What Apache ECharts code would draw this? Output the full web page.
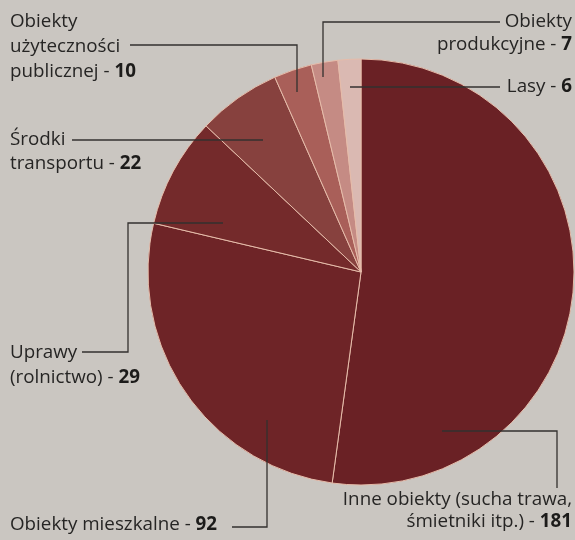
<!DOCTYPE html>
<html>
<head>
<meta charset="utf-8">
<script src="https://cdn.jsdelivr.net/npm/echarts@6/dist/echarts.min.js"></script>
<style>
html,body{margin:0;padding:0;background:#cac6c1;}
#c{width:575px;height:540px;}
</style>
</head>
<body>
<div id="c"></div>
<script>
// Data
var categories = [
  'Inne obiekty (sucha trawa, śmietniki itp.)',
  'Obiekty mieszkalne',
  'Uprawy (rolnictwo)',
  'Środki transportu',
  'Obiekty użyteczności publicznej',
  'Obiekty produkcyjne',
  'Lasy'
];
var values = [181, 92, 29, 22, 10, 7, 6];
// label text lines (last line gets " - value")
var labelLines = [
  ['Inne obiekty (sucha trawa,', 'śmietniki itp.)'],
  ['Obiekty mieszkalne'],
  ['Uprawy', '(rolnictwo)'],
  ['Środki', 'transportu'],
  ['Obiekty', 'użyteczności', 'publicznej'],
  ['Obiekty', 'produkcyjne'],
  ['Lasy']
];
var colors = ['#6a2125', '#6e2427', '#742a2b', '#87413e', '#a95f59', '#c58b84', '#dab9b2'];

// Layout of labels (positions only)
var labelLayouts = [
  {x: 572, y: 489, align: 'right', lh: 22, pts: [[442, 431], [557, 431], [557, 488]]},
  {x: 10, y: 513, align: 'left', lh: 24, pts: [[267, 420], [267, 527], [232, 527]]},
  {x: 10, y: 340, align: 'left', lh: 25, pts: [[223, 223], [128, 223], [128, 352], [82, 352]]},
  {x: 10, y: 128, align: 'left', lh: 24, pts: [[263, 140], [72, 140]]},
  {x: 10, y: 9, align: 'left', lh: 25, pts: [[297, 92], [297, 45], [130, 45]]},
  {x: 572, y: 10, align: 'right', lh: 23, pts: [[323, 77], [323, 22], [500, 22]]},
  {x: 572, y: 75, align: 'right', lh: 23, pts: [[350, 87], [500, 87]]}
];

var FONT = 'Open Sans';
var FS = 18.8;

var pieData = categories.map(function (c, i) {
  return {name: c, value: values[i], itemStyle: {color: colors[i]}};
});

var labelData = categories.map(function (c, i) {
  var lines = labelLines[i];
  var L = labelLayouts[i];
  var txt = lines.slice(0, -1).map(function (s) { return '{n|' + s + '}'; });
  txt.push('{n|' + lines[lines.length - 1] + ' - }{b|' + values[i] + '}');
  return {
    name: c,
    value: values[i],
    label: {
      formatter: txt.join('\n'),
      align: L.align,
      rich: {
        n: {fontFamily: FONT, fontSize: FS, color: '#262524', lineHeight: L.lh},
        b: {fontFamily: FONT, fontSize: FS, fontWeight: 'bold', color: '#1c1b1a', lineHeight: L.lh}
      }
    }
  };
});

var chart = echarts.init(document.getElementById('c'));
chart.setOption({
  backgroundColor: '#cac6c1',
  animation: false,
  series: [{
    type: 'pie',
    z: 2,
    center: [361, 272],
    radius: 213,
    startAngle: 90,
    clockwise: true,
    silent: true,
    itemStyle: {borderColor: '#e6bcaa', borderWidth: 1},
    label: {show: false},
    labelLine: {show: false},
    data: pieData
  }, {
    type: 'pie',
    z: 5,
    center: [361, 272],
    radius: 213,
    startAngle: 90,
    clockwise: true,
    silent: true,
    avoidLabelOverlap: false,
    itemStyle: {color: 'rgba(0,0,0,0)', borderWidth: 0},
    label: {show: true, position: 'outside'},
    labelLine: {show: true, lineStyle: {color: '#33312f', width: 1.3}},
    labelLayout: function (p) {
      var L = labelLayouts[p.dataIndex];
      return {
        x: L.x, y: L.y, align: L.align, verticalAlign: 'top',
        labelLinePoints: L.pts
      };
    },
    data: labelData
  }]
});
</script>
</body>
</html>
